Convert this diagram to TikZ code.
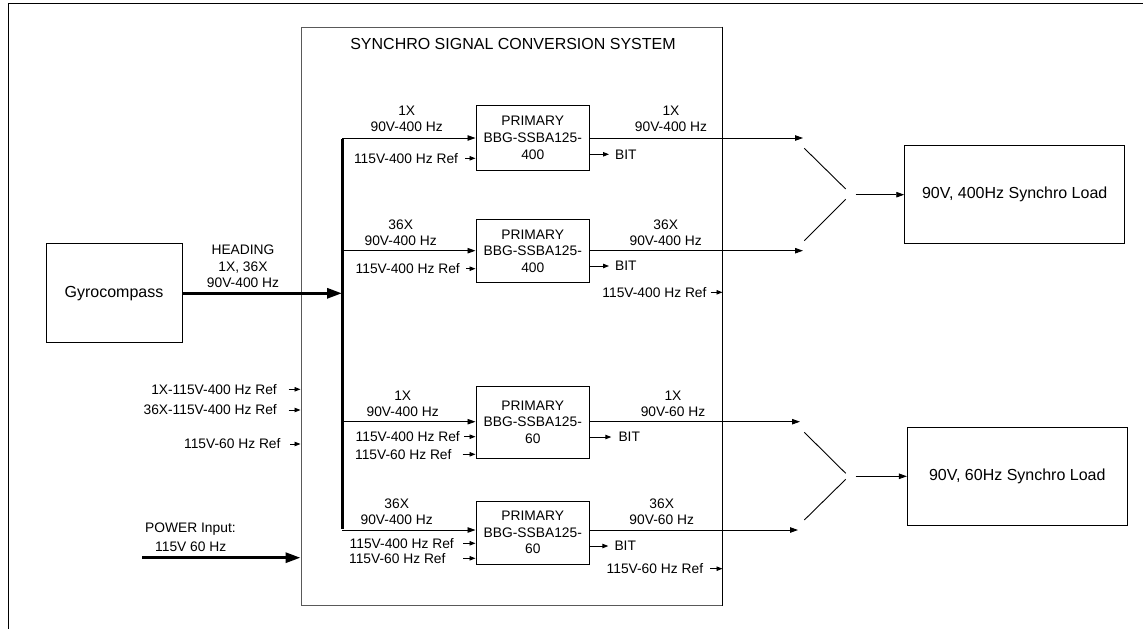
\documentclass[tikz,border=0pt]{standalone}
\usepackage{fontspec}
\setmainfont{Liberation Sans}
\usetikzlibrary{arrows.meta}
\begin{document}
\begin{tikzpicture}[x=1pt,y=-1pt,
  lbl/.style={font=\fontsize{13.8}{16.3}\selectfont, inner sep=0pt, align=center},
  biglbl/.style={font=\fontsize{16}{19}\selectfont, inner sep=0pt},
  block/.style={draw, line width=0.9pt, inner sep=0pt, align=center,
    font=\fontsize{13.8}{16.6}\selectfont, minimum width=113.7pt},
  unit/.style={draw, line width=0.9pt, inner sep=0pt,
    font=\fontsize{16}{19}\selectfont},
  sig/.style={line width=0.9pt, -{Triangle[length=8pt,width=5.5pt]}},
  refsig/.style={line width=0.9pt, -{Triangle[length=6pt,width=4.5pt]}},
  heavy/.style={line width=3pt, -{Triangle[length=15pt,width=10pt]}},
  plain/.style={line width=0.9pt},
]
\useasboundingbox (0,0) rectangle (1143,629);

% page frame (top and left rules)
\coordinate (fa) at (1143,3.5);
\coordinate (fb) at (8,3.5);
\coordinate (fc) at (8,629);
\draw[line width=1pt] (fa) -- (fb) -- (fc);

% conversion system enclosure
\node[draw=black!65, line width=1pt, minimum width=421pt, minimum height=578pt,
  inner sep=0pt] (sys) at (511.5,316) {};
\draw[line width=1pt] (sys.north east) -- (sys.south east);
\node[biglbl] (title) at (513,44) {SYNCHRO SIGNAL CONVERSION SYSTEM};

% gyrocompass and heading bus
\node[unit, minimum width=136pt, minimum height=99pt] (gyro) at (114,293.3) {Gyrocompass};
\coordinate (busH) at (342,293.3);
\draw[heavy] (gyro.east) -- (busH);
\node[lbl] (hdg) at (243,266.5) {HEADING\\1X, 36X\\90V-400 Hz};

\coordinate (b1) at (342,138);
\coordinate (b2) at (342,250.7);
\coordinate (b3) at (342,421.7);
\coordinate (b4) at (342,530);
\draw[line width=3pt] ([yshift=-0.5pt]b1) -- ([yshift=1.5pt]b4);

% converter blocks
\node[block, minimum height=64.3pt] (p1) at (532.8,137.9) {PRIMARY\\BBG-SSBA125-\\400};
\node[block, minimum height=63.3pt] (p2) at (532.8,251.2) {PRIMARY\\BBG-SSBA125-\\400};
\node[block, minimum height=72pt] (p3) at (532.8,422) {PRIMARY\\BBG-SSBA125-\\60};
\node[block, minimum height=62.7pt] (p4) at (532.8,532.7) {PRIMARY\\BBG-SSBA125-\\60};

% synchro inputs to the blocks
\draw[sig] (b1) -- (b1 -| p1.west);
\draw[sig] (b2) -- (b2 -| p2.west);
\draw[sig] (b3) -- (b3 -| p3.west);
\draw[sig] (b4) -- (b4 -| p4.west);
\node[lbl] (i1) at (406.7,119) {1X\\90V-400 Hz};
\node[lbl] (i2) at (400.7,233) {36X\\90V-400 Hz};
\node[lbl] (i3) at (402.7,404) {1X\\90V-400 Hz};
\node[lbl] (i4) at (396.7,512) {36X\\90V-400 Hz};

% reference inputs to the blocks
\node[lbl, anchor=east] (r1t) at (458.3,158.3) {115V-400 Hz Ref};
\coordinate (r1) at (465,158.3);
\draw[refsig] (r1) -- (r1 -| p1.west);
\node[lbl, anchor=east] (r2t) at (460,268.7) {115V-400 Hz Ref};
\coordinate (r2) at (466,268.7);
\draw[refsig] (r2) -- (r2 -| p2.west);
\node[lbl, anchor=east] (r3t) at (460,436.7) {115V-400 Hz Ref};
\coordinate (r3) at (464.3,436.7);
\draw[refsig] (r3) -- (r3 -| p3.west);
\node[lbl, anchor=east] (r3u) at (451.7,454.3) {115V-60 Hz Ref};
\coordinate (r3b) at (462.7,454.3);
\draw[refsig] (r3b) -- (r3b -| p3.west);
\node[lbl, anchor=east] (r4t) at (454,543.3) {115V-400 Hz Ref};
\coordinate (r4) at (463,543.3);
\draw[refsig] (r4) -- (r4 -| p4.west);
\node[lbl, anchor=east] (r4u) at (445.7,558.3) {115V-60 Hz Ref};
\coordinate (r4b) at (463,558.3);
\draw[refsig] (r4b) -- (r4b -| p4.west);

% BIT outputs
\node[lbl, anchor=west] (bit1) at (615,154.3) {BIT};
\draw[refsig] (p1.east |- bit1) -- ([xshift=-6pt]bit1.west);
\node[lbl, anchor=west] (bit2) at (615,266) {BIT};
\draw[refsig] (p2.east |- bit2) -- ([xshift=-6pt]bit2.west);
\node[lbl, anchor=west] (bit3) at (618.3,437) {BIT};
\draw[refsig] (p3.east |- bit3) -- ([xshift=-7pt]bit3.west);
\node[lbl, anchor=west] (bit4) at (614.3,546) {BIT};
\draw[refsig] (p4.east |- bit4) -- ([xshift=-6pt]bit4.west);

% synchro outputs
\coordinate (o1) at (803,138);
\coordinate (o2) at (803,250.7);
\coordinate (o3) at (800,421.7);
\coordinate (o4) at (798,530);
\draw[sig] (b1 -| p1.east) -- (o1);
\draw[sig] (b2 -| p2.east) -- (o2);
\draw[sig] (b3 -| p3.east) -- (o3);
\draw[sig] (b4 -| p4.east) -- (o4);
\node[lbl] (u1) at (671,119) {1X\\90V-400 Hz};
\node[lbl] (u2) at (665.7,233) {36X\\90V-400 Hz};
\node[lbl] (u3) at (673,404) {1X\\90V-60 Hz};
\node[lbl] (u4) at (661.7,512) {36X\\90V-60 Hz};

% references passed out of the enclosure
\node[lbl, anchor=east] (x1t) at (706.7,292.3) {115V-400 Hz Ref};
\coordinate (x1) at (710.7,292.3);
\draw[refsig] (x1) -- (x1 -| sys.east);
\node[lbl, anchor=east] (x2t) at (703.3,568.7) {115V-60 Hz Ref};
\coordinate (x2) at (710,568.7);
\draw[refsig] (x2) -- (x2 -| sys.east);

% synchro loads
\node[unit, minimum width=220pt, minimum height=98pt] (load1) at (1014.7,194.7) {90V, 400Hz Synchro Load};
\node[unit, minimum width=220pt, minimum height=98pt] (load2) at (1017.3,476.3) {90V, 60Hz Synchro Load};

\coordinate (m1a) at (804.3,148.3);
\coordinate (m1b) at (845.7,189);
\coordinate (m1c) at (804.3,240.7);
\coordinate (m1d) at (845.7,199.3);
\coordinate (m1o) at (855.7,194.7);
\draw[plain] (m1a) -- (m1b);
\draw[plain] (m1c) -- (m1d);
\draw[sig] (m1o) -- (load1.west);

\coordinate (m2a) at (804.3,432.3);
\coordinate (m2b) at (845.7,473.3);
\coordinate (m2c) at (804.3,520);
\coordinate (m2d) at (845.7,479.3);
\coordinate (m2o) at (855.7,476.3);
\draw[plain] (m2a) -- (m2b);
\draw[plain] (m2c) -- (m2d);
\draw[sig] (m2o) -- (load2.west);

% external references into the enclosure
\node[lbl, anchor=east] (e1t) at (277,389.3) {1X-115V-400 Hz Ref};
\coordinate (e1) at (288.7,389.3);
\draw[refsig] (e1) -- (e1 -| sys.west);
\node[lbl, anchor=east] (e2t) at (277,410) {36X-115V-400 Hz Ref};
\coordinate (e2) at (288.7,410);
\draw[refsig] (e2) -- (e2 -| sys.west);
\node[lbl, anchor=east] (e3t) at (280.7,444) {115V-60 Hz Ref};
\coordinate (e3) at (290,444);
\draw[refsig] (e3) -- (e3 -| sys.west);

% power input
\node[lbl, anchor=west] (pw1) at (145,529.3) {POWER Input:};
\node[lbl, anchor=west] (pw2) at (155,546.7) {115V 60 Hz};
\coordinate (pw) at (142,557.7);
\draw[heavy] (pw) -- (pw -| sys.west);
\end{tikzpicture}
\end{document}
